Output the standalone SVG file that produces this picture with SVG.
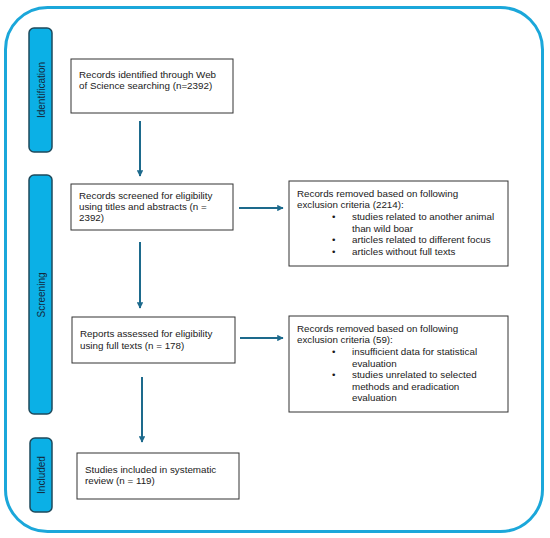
<svg xmlns="http://www.w3.org/2000/svg" width="550" height="538" viewBox="0 0 550 538">
<defs>
<style>
.frame{fill:#fff;stroke:#1ba7da;stroke-width:3}
.bar{fill:#0bb0e6;stroke:#1e4a5c;stroke-width:1.5}
.bar-t{font-family:"Liberation Sans",Arial,sans-serif;font-size:10px;fill:#14283a;text-anchor:middle}
.box{fill:#fff;stroke:#333;stroke-width:1}
.t{font-family:"Liberation Sans",Arial,sans-serif;font-size:9.8px;fill:#1a1a1a}
.conn{stroke:#1d6a8c;stroke-width:2;fill:none}
</style>
<marker id="ah" viewBox="0 0 10 10" refX="9" refY="5" markerWidth="3.2" markerHeight="3.2" orient="auto" markerUnits="strokeWidth">
<path d="M0,0 L10,5 L0,10 z" fill="#1d6a8c"/>
</marker>
</defs>
<rect class="frame" x="5.5" y="7.5" width="537" height="524" rx="42" ry="42"/>

<g id="phase-identification">
<rect class="bar" x="29" y="28" width="23" height="124" rx="5"/>
<text class="bar-t" transform="translate(44.5,90) rotate(-90)">Identification</text>
</g>
<g id="phase-screening">
<rect class="bar" x="29" y="175" width="23" height="239" rx="5"/>
<text class="bar-t" transform="translate(44.5,295) rotate(-90)">Screening</text>
</g>
<g id="phase-included">
<rect class="bar" x="30" y="438" width="22" height="74" rx="5"/>
<text class="bar-t" transform="translate(44.5,475) rotate(-90)">Included</text>
</g>

<g id="connectors">
<line class="conn" x1="140" y1="121" x2="140" y2="176" marker-end="url(#ah)"/>
<line class="conn" x1="140" y1="242" x2="140" y2="308" marker-end="url(#ah)"/>
<line class="conn" x1="142" y1="377" x2="142" y2="442" marker-end="url(#ah)"/>
<line class="conn" x1="239" y1="208" x2="283" y2="208" marker-end="url(#ah)"/>
<line class="conn" x1="240" y1="338" x2="283" y2="338" marker-end="url(#ah)"/>
</g>

<g id="node-identified">
<rect class="box" x="71" y="59" width="162" height="54"/>
<text class="t" x="79" y="78">Records identified through Web</text>
<text class="t" x="79" y="89">of Science searching (n=2392)</text>
</g>
<g id="node-screened">
<rect class="box" x="71" y="184" width="162" height="46"/>
<text class="t" x="79" y="199">Records screened for eligibility</text>
<text class="t" x="79" y="210">using titles and abstracts (n =</text>
<text class="t" x="79" y="221">2392)</text>
</g>
<g id="node-assessed">
<rect class="box" x="72" y="317" width="163" height="46"/>
<text class="t" x="80" y="337">Reports assessed for eligibility</text>
<text class="t" x="80" y="349">using full texts (n = 178)</text>
</g>
<g id="node-included">
<rect class="box" x="77" y="453" width="162" height="46"/>
<text class="t" x="85" y="473">Studies included in systematic</text>
<text class="t" x="85" y="484">review (n = 119)</text>
</g>
<g id="node-removed1">
<rect class="box" x="289" y="181" width="219" height="85"/>
<text class="t" x="297" y="197">Records removed based on following</text>
<text class="t" x="297" y="208">exclusion criteria (2214):</text>
<text class="t" x="332" y="220">•</text><text class="t" x="352" y="220">studies related to another animal</text>
<text class="t" x="352" y="232">than wild boar</text>
<text class="t" x="332" y="243">•</text><text class="t" x="352" y="243">articles related to different focus</text>
<text class="t" x="332" y="255">•</text><text class="t" x="352" y="255">articles without full texts</text>
</g>
<g id="node-removed2">
<rect class="box" x="289" y="316" width="219" height="96"/>
<text class="t" x="297" y="332">Records removed based on following</text>
<text class="t" x="297" y="343">exclusion criteria (59):</text>
<text class="t" x="332" y="355">•</text><text class="t" x="352" y="355">insufficient data for statistical</text>
<text class="t" x="352" y="367">evaluation</text>
<text class="t" x="332" y="378">•</text><text class="t" x="352" y="378">studies unrelated to selected</text>
<text class="t" x="352" y="390">methods and eradication</text>
<text class="t" x="352" y="401">evaluation</text>
</g>
</svg>
